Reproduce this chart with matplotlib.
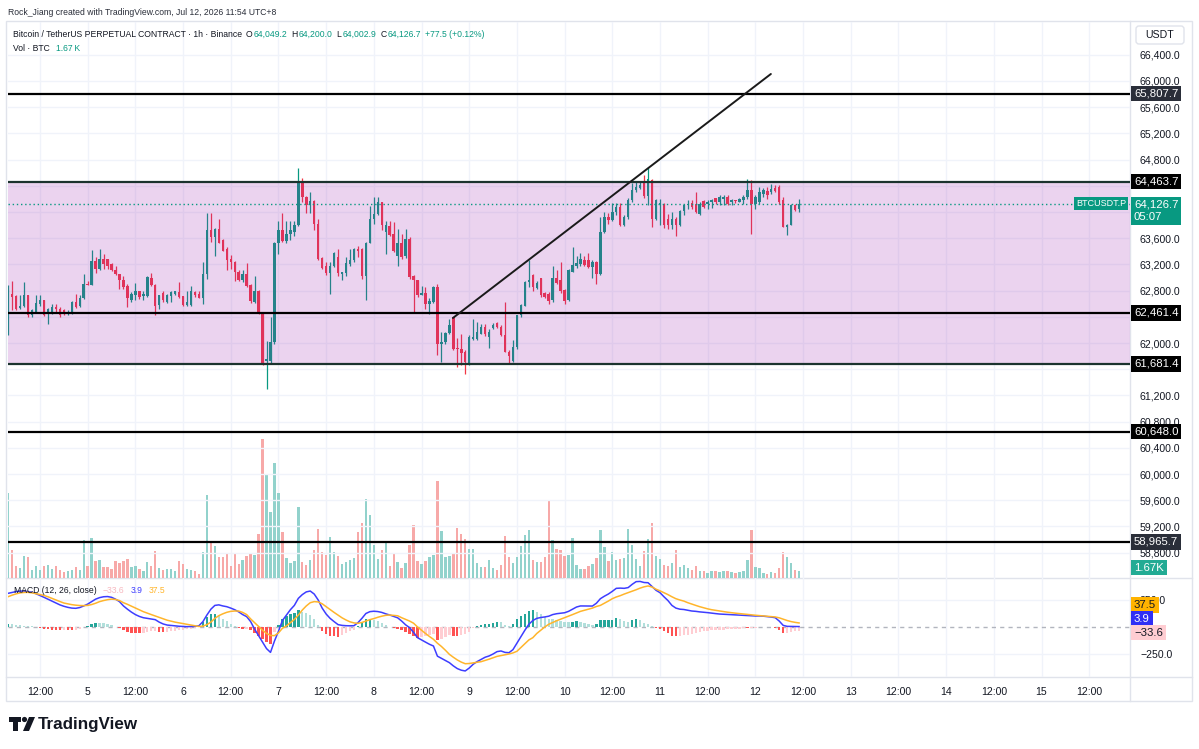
import matplotlib
matplotlib.use('Agg')
import matplotlib.pyplot as plt
import matplotlib.transforms as mtransforms
from matplotlib.patches import Rectangle, FancyBboxPatch, Polygon, Circle
from matplotlib.font_manager import FontProperties
from matplotlib.textpath import TextPath
import numpy as np

# ---------------- data ----------------
opens = [62170, 62750, 62720, 62530, 62560, 62730, 62420, 62480, 62600, 62650,
         62460, 62470, 62550, 62520, 62500, 62450, 62460, 62620, 62560, 62680,
         62900, 62890, 63250, 63130, 63280, 63280, 63210, 63120, 63050, 62960,
         62870, 62660, 62730, 62790, 62710, 62710, 63000, 62890, 62580, 62760,
         62620, 62720, 62750, 62780, 62710, 62580, 62580, 62780, 62750, 62690,
         63060, 63720, 63620, 63740, 63570, 63440, 63290, 63240, 63090, 62960,
         63060, 62890, 62620, 62800, 62460, 61720, 61720, 62010, 63530, 63720,
         63550, 63670, 63690, 63800, 64470, 64230, 64100, 64170, 63820, 63300,
         63180, 63070, 63180, 63310, 63060, 63070, 63210, 63260, 63440, 63440,
         63030, 63530, 63900, 63970, 64150, 63690, 63790, 63670, 63330, 63520,
         63330, 63590, 63020, 62960, 62740, 62770, 62600, 62620, 62850, 61990,
         62010, 62150, 62400, 61920, 61910, 61860, 61680, 62060, 62060, 62140,
         62240, 62090, 62230, 62300, 62240, 62120, 61870, 61730, 61940, 62420,
         62570, 62930, 63040, 62840, 62990, 62760, 62750, 62650, 62990, 62960,
         62810, 62660, 63090, 63180, 63200, 63270, 63260, 63160, 63230, 63060,
         63700, 63930, 63880, 64000, 64080, 63800, 63930, 64180, 64340, 64370,
         64460, 64240, 64490, 63898, 64127, 64127, 63898, 63796, 63898, 63796,
         64010, 64102, 64137, 64127, 63975, 64163, 64127, 64153, 64214, 64153,
         64204, 64229, 64153, 64178, 64153, 64178, 64229, 64331, 64127, 64153,
         64280, 64316, 64305, 64367, 64382, 64178, 63771, 63807, 64102, 64049.2]
highs = [62880, 62950, 62740, 62730, 62930, 62740, 62520, 62730, 62730, 62660,
         62530, 62600, 62600, 62550, 62520, 62500, 62640, 62750, 62730, 63060,
         62940, 63420, 63310, 63440, 63360, 63290, 63220, 63170, 63060, 63030,
         62900, 62780, 62920, 62790, 62800, 63030, 63070, 62900, 62740, 62800,
         62750, 62800, 62800, 62930, 62720, 62800, 62870, 62800, 62800, 63230,
         63980, 63980, 63750, 63900, 63590, 63460, 63340, 63250, 63110, 63110,
         63220, 62900, 63020, 62810, 62470, 62030, 62400, 63540, 63870, 63980,
         63870, 63870, 63870, 64670, 64520, 64250, 64300, 64180, 63890, 63310,
         63240, 63230, 63390, 63440, 63090, 63310, 63440, 63450, 63480, 63450,
         63540, 64090, 64230, 64230, 64160, 63870, 63870, 63850, 63740, 63670,
         63740, 63620, 63040, 62960, 62870, 62850, 62680, 62870, 62900, 62170,
         62170, 62370, 62400, 62070, 62140, 61890, 62120, 62370, 62320, 62290,
         62290, 62220, 62310, 62320, 62270, 62620, 61890, 62040, 62420, 62600,
         62950, 63270, 63060, 62950, 63000, 62780, 62780, 63180, 63110, 63230,
         62820, 63130, 63470, 63330, 63370, 63330, 63370, 63260, 63250, 63930,
         64000, 63990, 64130, 64130, 64130, 63950, 64210, 64440, 64460, 64470,
         64560, 64690, 64500, 64204, 64204, 64137, 63975, 64000, 63924, 64026,
         64127, 64178, 64178, 64305, 64153, 64178, 64178, 64204, 64214, 64265,
         64265, 64255, 64204, 64190, 64214, 64255, 64499, 64484, 64255, 64382,
         64367, 64382, 64433, 64407, 64407, 64229, 63822, 64127, 64127, 64200.0]
lows = [62120, 62500, 62510, 62520, 62550, 62400, 62400, 62470, 62570, 62410,
        62290, 62450, 62460, 62400, 62420, 62420, 62450, 62530, 62550, 62670,
        62880, 62880, 63070, 63110, 63130, 63130, 63100, 63040, 62830, 62830,
        62550, 62620, 62650, 62670, 62660, 62700, 62870, 62420, 62520, 62630,
        62610, 62620, 62740, 62690, 62570, 62560, 62570, 62700, 62680, 62600,
        62980, 63540, 63330, 63520, 63400, 63110, 63130, 62940, 62940, 62930,
        62850, 62610, 62610, 62450, 61660, 61300, 61700, 61990, 63360, 63540,
        63530, 63570, 63640, 63780, 64150, 63990, 63980, 63730, 63260, 63130,
        63040, 62750, 63160, 63030, 62960, 63030, 63180, 63240, 63320, 62980,
        62650, 63520, 63820, 63960, 63730, 63360, 63640, 63390, 63180, 63290,
        63300, 62980, 62470, 62700, 62730, 62520, 62450, 62610, 61810, 61710,
        61990, 62140, 61890, 61630, 61660, 61530, 61670, 62050, 62040, 62130,
        62110, 61930, 62220, 62230, 62100, 61860, 61680, 61710, 61910, 62400,
        62560, 62850, 62800, 62820, 62700, 62680, 62600, 62620, 62900, 62760,
        62600, 62640, 63080, 63150, 63170, 63170, 63140, 63000, 62900, 63040,
        63680, 63810, 63870, 63960, 63780, 63780, 63900, 64160, 64310, 64350,
        64220, 64110, 63770, 63873, 63796, 63756, 63746, 63746, 63634, 63786,
        63959, 64051, 64051, 63990, 63959, 64060, 64051, 64061, 64120, 64112,
        64112, 64112, 64102, 64140, 64150, 64127, 64204, 63669, 64051, 64127,
        64229, 64204, 64280, 64305, 64127, 63771, 63654, 63796, 64010, 64002.9]
closes = [62730, 62700, 62520, 62570, 62730, 62420, 62500, 62610, 62660, 62420,
          62520, 62550, 62520, 62420, 62450, 62480, 62620, 62550, 62680, 62900,
          62890, 63250, 63130, 63290, 63210, 63180, 63110, 63050, 62960, 62850,
          62690, 62750, 62790, 62700, 62750, 63010, 62880, 62570, 62730, 62650,
          62740, 62780, 62790, 62700, 62580, 62620, 62790, 62730, 62690, 63060,
          63720, 63620, 63740, 63530, 63410, 63260, 63230, 63080, 62960, 63060,
          62870, 62640, 62800, 62460, 61680, 61760, 62010, 63530, 63720, 63550,
          63670, 63720, 63800, 64470, 64230, 64100, 64170, 63820, 63290, 63140,
          63070, 63180, 63370, 63070, 63080, 63220, 63270, 63440, 63400, 63020,
          63530, 63900, 63970, 64160, 63800, 63800, 63650, 63400, 63520, 63310,
          63590, 63010, 62960, 62730, 62770, 62600, 62640, 62850, 61990, 62020,
          62150, 62280, 61910, 61910, 61850, 61710, 62090, 62090, 62170, 62240,
          62140, 62170, 62280, 62240, 62120, 61870, 61800, 61940, 62420, 62580,
          62930, 62960, 62855, 62910, 62730, 62700, 62640, 62990, 62920, 62800,
          62640, 63115, 63190, 63220, 63280, 63190, 63160, 63240, 63060, 63700,
          63930, 63880, 64000, 64080, 63800, 63930, 64180, 64340, 64380, 64410,
          64240, 64500, 63900, 64178, 64137, 63796, 63796, 63898, 63796, 64010,
          64102, 64127, 64076, 64000, 64127, 64076, 64153, 64178, 64153, 64229,
          64229, 64127, 64178, 64163, 64204, 64229, 64331, 64127, 64229, 64305,
          64331, 64255, 64356, 64316, 64153, 63771, 63807, 64102, 64026, 64126.7]
vol_k = [19.3, 6.4, 2.7, 2.3, 4.9, 4.8, 1.9, 2.7, 1.9, 2.7,
         3.0, 2.0, 2.7, 1.9, 1.3, 1.7, 1.9, 2.4, 1.9, 8.7,
         2.8, 9.2, 3.8, 4.2, 2.4, 2.4, 2.1, 3.8, 3.4, 3.9,
         4.3, 2.5, 2.8, 2.1, 1.5, 3.6, 2.7, 6.2, 2.3, 1.9,
         2.1, 2.0, 1.7, 3.9, 3.2, 2.1, 1.9, 1.5, 1.0, 5.9,
         18.8, 7.9, 7.2, 4.7, 4.8, 5.7, 2.8, 5.7, 3.2, 4.0,
         5.0, 5.5, 5.2, 10.0, 31.5, 23.4, 14.9, 26.1, 19.4, 10.5,
         4.5, 3.3, 3.9, 16.2, 3.6, 3.0, 4.2, 6.3, 11.1, 5.9,
         5.2, 9.4, 6.0, 5.0, 3.2, 3.7, 4.2, 4.5, 10.4, 12.4,
         17.9, 14.4, 7.6, 4.3, 6.4, 8.3, 2.8, 5.4, 3.7, 2.3,
         3.3, 7.5, 12.0, 3.9, 3.2, 3.9, 4.8, 5.2, 22.0, 10.6,
         4.8, 5.0, 5.5, 11.4, 9.9, 8.9, 6.7, 6.5, 3.5, 2.4,
         2.4, 4.2, 2.3, 1.9, 3.0, 9.6, 4.7, 3.3, 4.8, 7.2,
         9.8, 10.9, 4.1, 3.6, 3.6, 4.8, 17.7, 8.7, 6.7, 6.4,
         5.0, 5.2, 9.2, 3.0, 2.0, 2.0, 2.7, 3.2, 4.6, 10.9,
         7.0, 3.9, 5.8, 4.1, 4.4, 4.5, 11.1, 7.6, 4.3, 2.7,
         6.1, 8.9, 12.6, 5.0, 4.3, 3.0, 2.7, 3.3, 6.3, 2.5,
         2.9, 2.3, 1.8, 2.8, 1.5, 1.5, 1.1, 1.7, 1.5, 1.4,
         1.7, 1.5, 1.4, 1.1, 1.3, 1.5, 4.1, 10.8, 2.4, 2.3,
         1.1, 1.0, 1.3, 1.1, 2.3, 6.0, 4.7, 3.3, 1.9, 1.67]
macd_line = [312, 320, 328, 333, 332, 328, 322, 308, 292, 275,
             258, 240, 222, 205, 192, 182, 175, 173, 180, 195,
             212, 235, 258, 272, 280, 282, 275, 258, 235, 195,
             165, 138, 115, 98, 86, 80, 74, 68, 45, 28,
             18, 14, 10, 7, 5, 3, 4, 6, 12, 50,
             111, 165, 200, 205, 195, 188, 175, 160, 140, 115,
             96, 50, -20, -80, -140, -200, -235, -130, -40, 60,
             110, 160, 200, 265, 300, 325, 333, 305, 250, 175,
             120, 80, 50, 22, 15, 12, 11, 12, 40, 80,
             125, 142, 146, 143, 135, 122, 111, 98, 85, 55,
             20, -6, -50, -99, -120, -140, -160, -176, -270, -290,
             -310, -330, -360, -385, -400, -407, -380, -345, -320, -300,
             -280, -268, -250, -228, -222, -235, -238, -210, -150, -90,
             -30, 25, 60, 80, 88, 93, 100, 115, 123, 128,
             132, 145, 165, 185, 195, 195, 194, 194, 220, 262,
             285, 305, 330, 358, 360, 358, 365, 395, 420, 422,
             412, 410, 375, 340, 318, 280, 245, 200, 175, 165,
             162, 155, 148, 145, 140, 137, 133, 128, 124, 120,
             118, 116, 114, 112, 110, 108, 105, 104, 102, 102,
             100, 96, 92, 86, 55, 15, 6, 5, 4, 3.9]
signal_line = [281, 295, 307, 316, 320, 321, 316, 309, 300, 292,
               280, 265, 250, 236, 222, 214, 207, 202, 199, 198,
               200, 208, 220, 235, 245, 253, 258, 255, 245, 225,
               210, 193, 175, 158, 142, 128, 115, 102, 88, 75,
               63, 54, 45, 38, 31, 25, 18, 12, 5, 8,
               22, 45, 80, 105, 122, 136, 145, 148, 148, 135,
               115, 75, 40, 5, -30, -59, -78, -80, -55, -12,
               10, 40, 70, 110, 157, 195, 225, 235, 232, 215,
               188, 160, 135, 110, 85, 65, 48, 38, 34, 42,
               55, 68, 78, 90, 100, 108, 111, 108, 104, 86,
               70, 55, 35, 0, -30, -60, -88, -114, -150, -180,
               -215, -253, -280, -305, -325, -340, -338, -332, -327, -321,
               -310, -298, -285, -272, -265, -258, -250, -240, -225, -190,
               -155, -120, -99, -60, -30, 0, 25, 42, 58, 72,
               86, 100, 115, 130, 145, 155, 165, 175, 190, 200,
               220, 240, 262, 278, 290, 305, 318, 330, 345, 360,
               372, 380, 370, 350, 335, 318, 300, 280, 262, 250,
               240, 225, 212, 200, 188, 178, 168, 160, 154, 148,
               142, 137, 132, 128, 124, 120, 117, 113, 109, 106,
               102, 99, 96, 93, 85, 72, 60, 50, 43, 37.5]

levels = [65807.7, 64463.7, 62461.4, 61681.4, 60648.0, 58965.7]
zone_low, zone_high = 61681.4, 64463.7
trend_x = [111.9, 191.9]
trend_y = [62382, 66107]
last_price = 64126.7

price_ticks = [58800, 59200, 59600, 60000, 60400, 60800, 61200, 61600, 62000,
               62400, 62800, 63200, 63600, 64000, 64400, 64800, 65200, 65600,
               66000, 66400]
hidden_price_ticks = [61600, 62400, 64000, 64400]
time_tick_pos = [8, 20, 32, 44, 56, 68, 80, 92, 104, 116, 128, 140, 152, 164,
                 176, 188, 200, 212, 224, 236, 248, 260, 272]
time_tick_labels = ['12:00', '5', '12:00', '6', '12:00', '7', '12:00', '8',
                    '12:00', '9', '12:00', '10', '12:00', '11', '12:00', '12',
                    '12:00', '13', '12:00', '14', '12:00', '15', '12:00']

# ---------------- styles ----------------
W, H = 1199, 749
FONT = 'Liberation Sans'
plt.rcParams['font.family'] = [FONT, 'DejaVu Sans']
TXT = '#131722'
GREEN = '#089981'
RED = '#f23645'
GRID = '#f0f3fa'
BORDER = '#e0e3eb'


def fit_size(s, target_px, weight='normal', family=FONT):
    fp = FontProperties(family=family, weight=weight, size=10)
    w = TextPath((0, 0), s, prop=fp).get_extents().width
    return 10 * target_px / (w * 100 / 72)


def rect(x0, y0, x1, y1):
    return [x0 / W, 1 - y1 / H, (x1 - x0) / W, (y1 - y0) / H]


fig = plt.figure(figsize=(W / 100, H / 100), dpi=100)
fig.patch.set_facecolor('white')
renderer = fig.canvas.get_renderer()

PL, PR = 8, 1130
MT, MB = 22, 578
MACD_T, MACD_B = 578, 677

# overlay for frame and logo (bottom)
axf = fig.add_axes([0, 0, 1, 1], zorder=0)
axf.set_xlim(0, W)
axf.set_ylim(H, 0)
axf.axis('off')
axf.add_patch(Rectangle((6, 21), 1186, 680, fill=False, ec=BORDER, lw=1))
axf.plot([PR, PR], [21, 701], color=BORDER, lw=1)
axf.plot([6, 1192], [MACD_T, MACD_T], color=BORDER, lw=1)
axf.plot([6, 1192], [MACD_B, MACD_B], color=BORDER, lw=1)

fs_tick = fit_size('66,000.0', 40)
fs_tag = fs_tick * 1.08

# volume axes (below price axes)
axv = fig.add_axes(rect(PL, MT, PR, MB), zorder=1)
axv.set_facecolor('none')
idx = np.arange(len(closes))
o = np.array(opens); h = np.array(highs); l = np.array(lows); c = np.array(closes)
up = c >= o
vcol = np.where(up, '#92d2cc', '#f7a9a8')
axv.bar(idx, vol_k, width=0.6, color=vcol, linewidth=0)
for t in time_tick_pos:
    axv.axvline(t, color=GRID, lw=1, zorder=0)
axv.set_ylim(0, (MB - MT) / 4.4)
axv.set_xlim(-0.05, (PR - PL) / 3.975)
axv.axis('off')

# price axes
ax = fig.add_axes(rect(PL, MT, PR, MB), zorder=2, sharex=axv)
ax.set_facecolor('none')
p_top = 66000 + (81 - MT) * 15.267
p_bot = 66000 - (MB - 81) * 15.267
ax.set_ylim(p_bot, p_top)
for p in price_ticks:
    ax.axhline(p, color=GRID, lw=1, zorder=0)
ax.vlines(idx, l, h, colors=np.where(up, GREEN, RED), lw=0.9, zorder=3)
ax.bar(idx, np.maximum(np.abs(c - o), 15), bottom=np.minimum(o, c), width=0.62,
       color=np.where(up, GREEN, RED), linewidth=0, zorder=4)
x0, x1 = -0.05, (PR - PL) / 3.975
ax.add_patch(Rectangle((x0, zone_low), x1 - x0, zone_high - zone_low,
                       fc='#9c27b0', alpha=0.2, ec='none', zorder=5))
for lv in levels:
    colr = '#1b332e' if lv in (zone_low, zone_high) else '#000000'
    ax.axhline(lv, color=colr, lw=1.6, zorder=6)
ax.axhline(last_price, color=GREEN, lw=1, ls=(0, (1, 2)), zorder=6)
ax.plot(trend_x, trend_y, color='#1a1a1a', lw=1.4, zorder=7, solid_capstyle='round')
ax.set_xlim(x0, x1)
ax.yaxis.tick_right()
ax.set_yticks(price_ticks)
ax.set_yticklabels(['' if p in hidden_price_ticks else f'{p:,.1f}' for p in price_ticks])
ax.tick_params(axis='y', length=0, pad=10 * 0.72, labelsize=fs_tick, labelcolor=TXT)
ax.tick_params(axis='x', length=0, labelbottom=False)
for s in ax.spines.values():
    s.set_visible(False)

# MACD axes
axm = fig.add_axes(rect(PL, MACD_T, PR, MACD_B), zorder=2, sharex=axv)
axm.set_facecolor('none')
mac = np.array(macd_line, dtype=float)
sig = np.array(signal_line, dtype=float)
hist = mac - sig
hcol = []
for k in range(len(hist)):
    prev = hist[k - 1] if k > 0 else hist[k]
    if hist[k] >= 0:
        hcol.append('#26a69a' if hist[k] >= prev else '#b2dfdb')
    else:
        hcol.append('#ff5252' if hist[k] <= prev else '#ffcdd2')
for t in time_tick_pos:
    axm.axvline(t, color=GRID, lw=1, zorder=0)
for v in (250, -250):
    axm.axhline(v, color=GRID, lw=1, zorder=0)
axm.axhline(0, color='#b2b5be', lw=1, ls=(0, (3, 3)), zorder=1)
axm.bar(idx, hist, width=0.6, color=hcol, linewidth=0, zorder=2)
axm.plot(idx, mac, color='#3d3dff', lw=1.1, zorder=3)
axm.plot(idx, sig, color='#ffb52b', lw=1.1, zorder=3)
axm.set_ylim(-(MACD_B - 627) / 0.108, (627 - MACD_T) / 0.108)
axm.set_xlim(x0, x1)
axm.yaxis.tick_right()
axm.set_yticks([250, -250])
axm.set_yticklabels(['250.0', '\u2212250.0'])
axm.tick_params(axis='y', length=0, pad=10 * 0.72, labelsize=fs_tick, labelcolor=TXT)
axm.set_xticks(time_tick_pos)
axm.set_xticklabels(time_tick_labels)
axm.tick_params(axis='x', length=0, pad=7, labelsize=fs_tick, labelcolor=TXT)
for s in axm.spines.values():
    s.set_visible(False)

# ---------------- price-axis tags ----------------
ax_x = (1134 - PL) / (PR - PL)
tr_main = mtransforms.blended_transform_factory(ax.transAxes, ax.transData)
tr_macd = mtransforms.blended_transform_factory(axm.transAxes, axm.transData)


def tag(axis_tr, y, s, fc, tc='white', dy=0.0, xa=ax_x, ha='left', fs=None,
        weight='normal', pad=0.25, ls=1.0):
    trans = mtransforms.offset_copy(axis_tr, fig=fig, y=dy, units='dots')
    fig.text(xa, y, s, transform=trans, ha=ha, va='center', fontsize=fs or fs_tag,
             color=tc, weight=weight, zorder=20, linespacing=ls,
             bbox=dict(boxstyle=f'square,pad={pad}', fc=fc, ec='none'))


for lv in levels:
    fc = '#2a2e39' if lv in (65807.7, 58965.7) else '#000000'
    tag(tr_main, lv, f'{lv:,.1f}', fc)
tag(tr_main, last_price, f'{last_price:,.1f}\n05:07', GREEN, dy=-7, ls=1.25)
tag(tr_main, last_price, 'BTCUSDT.P', GREEN, xa=(1126 - PL) / (PR - PL), ha='right',
    fs=fs_tick * 0.85)
trv = mtransforms.blended_transform_factory(axv.transAxes, axv.transData)
tag(trv, vol_k[-1], f'{vol_k[-1]:.2f}K', '#22ab94', dy=3)
tag(tr_macd, sig[-1], f'{sig[-1]:.1f}', '#ffb300', tc=TXT, dy=18)
tag(tr_macd, mac[-1], f'{mac[-1]:.1f}', '#2f2ff5', dy=8)
tag(tr_macd, hist[-1], f'\u2212{abs(hist[-1]):.1f}', '#ffcdd2', tc=TXT, dy=-2)

# USDT box
axf.add_patch(FancyBboxPatch((1136, 26), 48, 18, boxstyle='round,pad=0,rounding_size=3',
                             fc='white', ec=BORDER, lw=1, zorder=5))
axf.text(1160, 35.5, 'USDT', ha='center', va='center', fontsize=fs_tick, color=TXT, zorder=6)


# ---------------- texts ----------------
def seq_text(x, y, items, size):
    """items: (string, colour, gap_after_px); y is the text centre in px"""
    for s, colr, gap in items:
        t = fig.text(x / W, 1 - (y + 3) / H, s, fontsize=size, color=colr,
                     ha='left', va='baseline', zorder=30)
        x += t.get_window_extent(renderer).width + gap
    return x


fs_leg = 6.2
seq_text(8, 12, [('Rock_Jiang created with TradingView.com, Jul 12, 2026 11:54 UTC+8',
                  '#2a2e39', 0)], fs_leg)
seq_text(13, 34, [('Bitcoin / TetherUS PERPETUAL CONTRACT \u00b7 1h \u00b7 Binance', TXT, 4),
                  ('O', TXT, 1), (f'{opens[-1]:,.1f}', GREEN, 4),
                  ('H', TXT, 1), (f'{highs[-1]:,.1f}', GREEN, 4),
                  ('L', TXT, 1), (f'{lows[-1]:,.1f}', GREEN, 4),
                  ('C', TXT, 1), (f'{closes[-1]:,.1f}', GREEN, 4),
                  ('+77.5 (+0.12%)', GREEN, 0)], fs_leg)
seq_text(13, 48, [('Vol \u00b7 BTC', TXT, 6), ('1.67\u2009K', GREEN, 0)], fs_leg)
seq_text(14, 590, [('MACD (12, 26, close)', TXT, 6),
                   (f'\u2212{abs(hist[-1]):.1f}', '#f7b9c0', 6),
                   (f'{mac[-1]:.1f}', '#3d3dff', 6),
                   (f'{sig[-1]:.1f}', '#ffb52b', 0)], fs_leg)

# TradingView logo
axf.add_patch(Polygon([(9, 717), (21, 717), (21, 722), (17.5, 722), (17.5, 731), (13, 731),
                       (13, 722), (9, 722)], closed=True, fc=TXT, ec='none'))
axf.add_patch(Circle((24.5, 719.5), 2.6, fc=TXT, ec='none'))
axf.add_patch(Polygon([(29, 717), (35, 717), (29, 731), (23, 731)], closed=True, fc=TXT, ec='none'))
fs_logo = fit_size('TradingView', 100, weight='bold')
axf.text(38, 724, 'TradingView', fontsize=fs_logo, weight='bold', color=TXT,
         ha='left', va='center')

fig.savefig('out.png', dpi=100, facecolor='white')
